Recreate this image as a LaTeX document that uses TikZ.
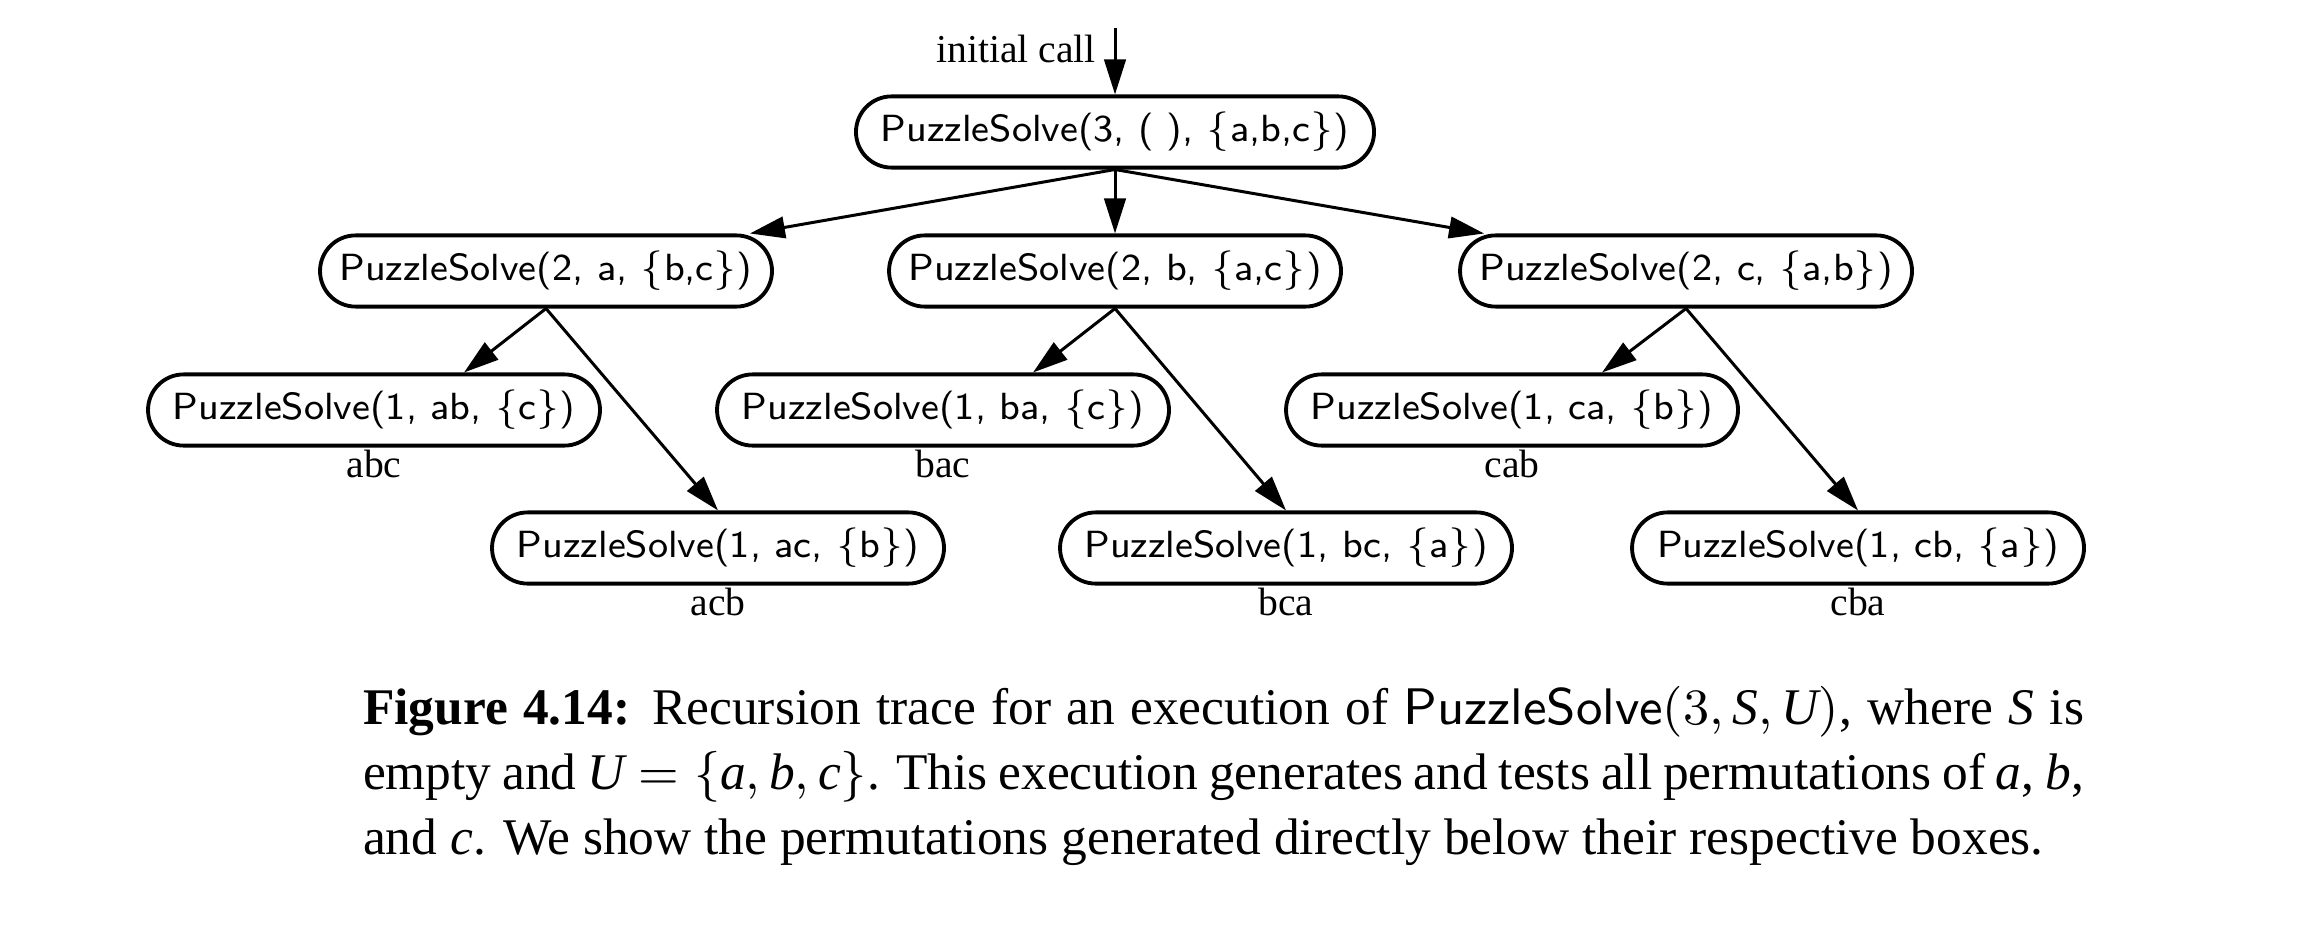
\documentclass[tikz,border=0pt]{standalone}
\usepackage{fontspec}
\setmainfont{Liberation Serif}
\usetikzlibrary{arrows.meta}
\begin{document}
\begin{tikzpicture}[x=0.177pt,y=-0.177pt,
  call/.style={draw, line width=0.68pt, rounded corners=6.3pt, minimum height=12.6pt,
    minimum width=80pt, inner sep=0pt, font=\fontsize{6.7}{8}\selectfont\sffamily},
  arr/.style={-{Triangle[length=6.2pt,width=3.8pt]}, line width=0.53pt},
  perm/.style={font=\fontsize{7}{8.4}\selectfont, inner sep=0pt, anchor=base}]
\useasboundingbox (0,0) rectangle (2297,926);
% level 1
\node[call, minimum width=91.7pt] (r) at (1115,132) {PuzzleSolve(3, (\,\,), $\{$a,b,c$\}$)};
% level 2
\node[call] (a) at (546,271) {PuzzleSolve(2, a, $\{$b,c$\}$)};
\node[call] (b) at (1115,271) {PuzzleSolve(2, b, $\{$a,c$\}$)};
\node[call] (c) at (1686,271) {PuzzleSolve(2, c, $\{$a,b$\}$)};
% level 3
\node[call] (ab) at (374,410) {PuzzleSolve(1, ab, $\{$c$\}$)};
\node[call] (ac) at (718,548) {PuzzleSolve(1, ac, $\{$b$\}$)};
\node[call] (ba) at (943,410) {PuzzleSolve(1, ba, $\{$c$\}$)};
\node[call] (bc) at (1286,548) {PuzzleSolve(1, bc, $\{$a$\}$)};
\node[call] (ca) at (1512,410) {PuzzleSolve(1, ca, $\{$b$\}$)};
\node[call] (cb) at (1858,548) {PuzzleSolve(1, cb, $\{$a$\}$)};
% permutation labels
\node[perm] (pabc) at (374,477) {abc};
\node[perm] (pacb) at (718,615) {acb};
\node[perm] (pbac) at (943,477) {bac};
\node[perm] (pbca) at (1286,615) {bca};
\node[perm] (pcab) at (1512,477) {cab};
\node[perm] (pcba) at (1858,615) {cba};
% initial call
\coordinate (start) at (1115,28);
\node[perm, anchor=base east] (init) at (1097,63) {initial call};
\draw[arr] (start) -- (r.north);
% connectors
\draw[arr] (r.south) -- ([xshift=-24*0.177pt]a.north east);
\draw[arr] (r.south) -- (b.north);
\draw[arr] (r.south) -- ([xshift=26*0.177pt]c.north west);
\draw[arr] (a.south) -- ([xshift=90*0.177pt]ab.north);
\draw[arr] (a.south) -- (ac.north);
\draw[arr] (b.south) -- ([xshift=90*0.177pt]ba.north);
\draw[arr] (b.south) -- (bc.north);
\draw[arr] (c.south) -- ([xshift=90*0.177pt]ca.north);
\draw[arr] (c.south) -- (cb.north);
% caption
\node[anchor=north west, inner sep=0pt, text width=304.6pt, align=justify,
  font=\fontsize{9.1}{11.5}\selectfont] (cap) at (362,685)
  {\textbf{Figure 4.14:} Recursion trace for an execution of $\textsf{PuzzleSolve}(3,\textit{S},\textit{U})$, where \textit{S} is\linebreak
   empty and $\textit{U}=\{\textit{a},\textit{b},\textit{c}\}$. This execution generates and tests all permutations of \textit{a}, \textit{b},\linebreak
   and \textit{c}. We show the permutations generated directly below their respective boxes.};
\end{tikzpicture}
\end{document}
